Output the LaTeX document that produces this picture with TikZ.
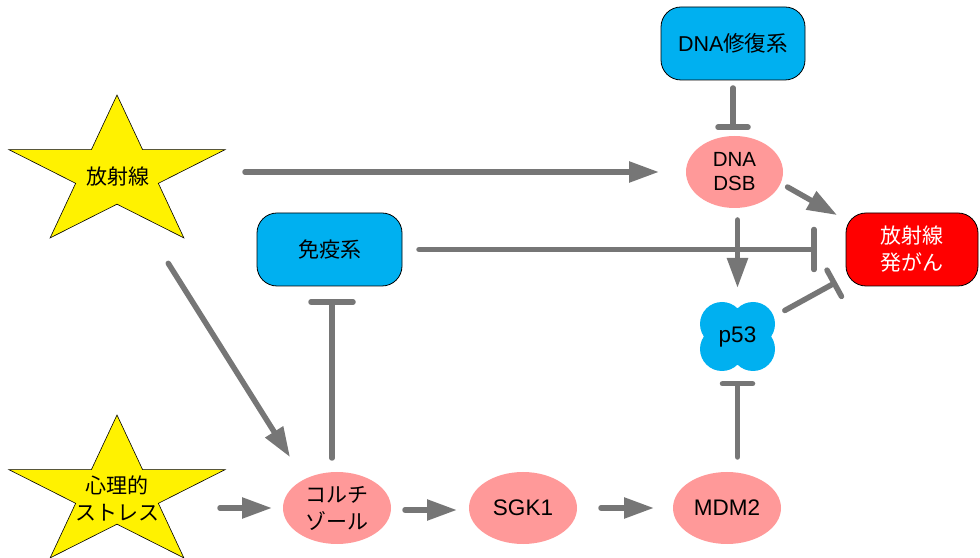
\documentclass[tikz,border=0pt]{standalone}
\usepackage{fontspec}
\setmainfont{Liberation Sans}
\newfontfamily\jp{Noto Sans CJK JP}
\usetikzlibrary{shapes.geometric}
\usetikzlibrary{arrows.meta}

\definecolor{linkgray}{RGB}{118,118,118}
\definecolor{factorpink}{RGB}{255,153,153}
\definecolor{systemblue}{RGB}{0,176,240}

\begin{document}
\begin{tikzpicture}[x=1pt, y=1pt,
    every node/.style={font=\fontsize{22.5}{27}\selectfont},
    jptext/.style={font=\fontsize{21}{27}\selectfont\jp},
    stress/.style={fill=yellow, draw=black, line width=0.6pt},
    factor/.style={ellipse, fill=factorpink, minimum width=108pt, minimum height=72pt, inner sep=0pt, align=center},
    system/.style={rectangle, rounded corners=20pt, fill=systemblue, draw=black, line width=0.8pt, minimum width=144pt, minimum height=73pt, inner sep=0pt, align=center},
    act/.style={draw=linkgray, line width=5.5pt, line cap=round, -{Triangle[length=30pt, width=20pt]}},
    inh/.style={draw=linkgray, line width=5.5pt, line cap=round, -{Bar[width=#1, round]}},
    inh/.default=30pt
]
    \useasboundingbox (0,0) rectangle (980,557);

    \draw [stress, shift={(117,383)}, xscale=1.44] (90:79) \foreach \k in {1,...,4} {-- (54+72*\k:30.2) -- (90+72*\k:79)} -- (54:30.2) -- cycle;
    \draw [stress, shift={(117,63)}, xscale=1.44] (90:79) \foreach \k in {1,...,4} {-- (54+72*\k:30.2) -- (90+72*\k:79)} -- (54:30.2) -- cycle;
    \fill [systemblue, shift={(737.5,220.5)}] (-15.5,12.5) circle (22) (15.5,12.5) circle (22) (-15.5,-12.5) circle (22) (15.5,-12.5) circle (22);

    \node [jptext] (rad) at (118,380) {放射線};
    \node [jptext, align=center] (psy) at (117,59) {心理的\\ストレス};
    \node [system, font=\fontsize{21.5}{27}\selectfont] (repair) at (733,513.5) {DNA{\jp 修復系}};
    \node [factor, minimum width=97pt, font=\fontsize{20.5}{24}\selectfont] (dsb) at (734.5,385) {DNA\\DSB};
    \node [system, jptext, minimum width=145pt] (immune) at (329.5,307.5) {免疫系};
    \node [system, jptext, fill=red, text=white, minimum width=132pt] (cancer) at (912,307.5) {放射線\\発がん};
    \node (p53) at (737.5,220.5) {p53};
    \node [factor, jptext] (cort) at (337,49) {コルチ\\ゾール};
    \node [factor] (sgk) at (523,49) {SGK1};
    \node [factor] (mdm) at (727,49) {MDM2};

    \draw [act, shorten <=127pt, shorten >=75.5pt] (rad.center |- dsb.center) -- (dsb.center);
    \draw [act, shorten <=102pt, shorten >=60pt] ([xshift=-4pt]rad.center) -- ([xshift=-15pt]cort.center);
    \draw [act, shorten <=103pt, shorten >=65pt] (psy.center |- cort.center) -- (cort.center);
    \draw [act, shorten <=68pt, shorten >=66pt] ([yshift=-2pt]cort.center) -- ([yshift=-2pt]sgk.center);
    \draw [act, shorten <=78pt, shorten >=73pt] (sgk.center) -- (mdm.center);
    \draw [inh, shorten <=51pt, shorten >=44.5pt] (p53.center |- mdm.center) -- (p53.center);
    \draw [inh=42pt, shorten <=50pt, shorten >=49.75pt] ([xshift=2.5pt]immune.center |- cort.center) -- ([xshift=2.5pt]immune.center);
    \draw [inh, shorten <=44.5pt, shorten >=42pt] (repair.center) -- (repair.center |- dsb.center);
    \draw [act, shorten <=48pt, shorten >=48.5pt] (p53.center |- dsb.center) -- (p53.center);
    \draw [act, shorten <=61pt, shorten >=86pt] ([yshift=15pt]dsb.center) -- ([yshift=-8pt]cancer.center);
    \draw [inh=40pt, shorten <=89.5pt, shorten >=95.25pt] (immune.center) -- (cancer.center);
    \draw [inh, shorten <=54pt, shorten >=86pt] (p53.center) -- ([yshift=9pt]cancer.center);
\end{tikzpicture}
\end{document}
